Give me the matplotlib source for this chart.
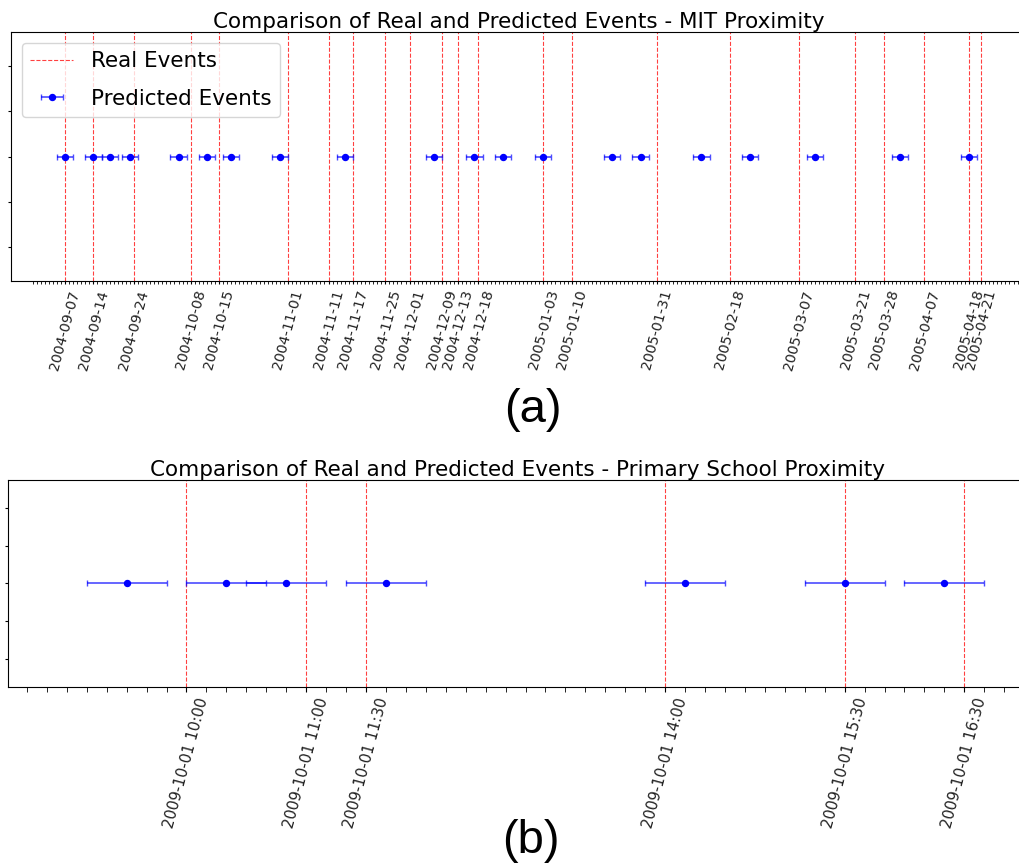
import numpy as np
import pandas as pd
import matplotlib
matplotlib.use('Agg')
import matplotlib.pyplot as plt
import matplotlib.dates as mdates
from matplotlib.ticker import FixedLocator, NullFormatter

#####################################################################################
# DATA:
#####################################################################################
# (a) MIT proximity
mit_real = ['2004-09-07', '2004-09-14', '2004-09-24', '2004-10-08', '2004-10-15',
            '2004-11-01', '2004-11-11', '2004-11-17', '2004-11-25', '2004-12-01',
            '2004-12-09', '2004-12-13', '2004-12-18', '2005-01-03', '2005-01-10',
            '2005-01-31', '2005-02-18', '2005-03-07', '2005-03-21', '2005-03-28',
            '2005-04-07', '2005-04-18', '2005-04-21']
mit_pred = ['2004-09-07', '2004-09-14', '2004-09-18', '2004-09-23', '2004-10-05',
            '2004-10-12', '2004-10-18', '2004-10-30', '2004-11-15', '2004-12-07',
            '2004-12-17', '2004-12-24', '2005-01-03', '2005-01-20', '2005-01-27',
            '2005-02-11', '2005-02-23', '2005-03-11', '2005-04-01', '2005-04-18']
mit_err_days = 2

# (b) Primary school proximity
school_real = ['2009-10-01 10:00', '2009-10-01 11:00', '2009-10-01 11:30',
               '2009-10-01 14:00', '2009-10-01 15:30', '2009-10-01 16:30']
school_pred = ['2009-10-01 09:30', '2009-10-01 10:20', '2009-10-01 10:50',
               '2009-10-01 11:40', '2009-10-01 14:10', '2009-10-01 15:30',
               '2009-10-01 16:20']
school_err_min = 20

#####################################################################################
# PROCEDURE:
#####################################################################################
def draw_events(ax, real, pred, err, fmt, title, xlim, minor, ticklen, labelsize):
    real = pd.to_datetime(real)
    pred = pd.to_datetime(pred)
    for i, d in enumerate(real):
        ax.axvline(d, color='red', linestyle='--', linewidth=0.8, alpha=0.75,
                   label='Real Events' if i == 0 else None)
    y = np.ones(len(pred))
    line, caps, bars = ax.errorbar(pred, y, xerr=err, fmt='o', color='blue',
                                   markersize=4.3, capsize=2.5, elinewidth=1.2,
                                   label='Predicted Events')
    for c in caps:
        c.set_alpha(0.7)
    for b in bars:
        b.set_alpha(0.7)
    ax.set_xlim(pd.to_datetime(xlim[0]), pd.to_datetime(xlim[1]))
    ax.set_ylim(0.9452, 1.0548)
    ax.set_yticks([0.96, 0.98, 1.0, 1.02, 1.04])
    ax.set_yticklabels([])
    ax.set_xticks(real)
    ax.xaxis.set_major_formatter(mdates.DateFormatter(fmt))
    ax.xaxis.set_minor_locator(FixedLocator(mdates.date2num(minor)))
    ax.xaxis.set_minor_formatter(NullFormatter())
    ax.tick_params(axis='x', labelsize=labelsize, rotation=75, length=ticklen,
                   labelcolor='#222222')
    ax.tick_params(axis='x', which='minor', length=ticklen)
    ax.tick_params(axis='y', length=2)
    ax.set_title(title, fontsize=15.5, pad=1)

#####################################################################################
# CODE:
#####################################################################################
fig = plt.figure(figsize=(10.19, 8.63), dpi=100)

ax1 = fig.add_axes([11/1019, 1-281/863, 1015/1019, 249/863])
draw_events(ax1, mit_real, mit_pred, pd.Timedelta(days=mit_err_days), '%Y-%m-%d',
            'Comparison of Real and Predicted Events - MIT Proximity',
            ('2004-08-24 16:00', '2005-05-02 02:00'),
            pd.date_range('2004-08-30', '2005-05-03', freq='D'), 2, 10.2)
ax1.legend(loc='upper left', fontsize=15.5, labelspacing=0.8)

ax2 = fig.add_axes([8/1019, 1-686.5/863, 1019/1019, 206.5/863])
draw_events(ax2, school_real, school_pred, pd.Timedelta(minutes=school_err_min),
            '%Y-%m-%d %H:%M',
            'Comparison of Real and Predicted Events - Primary School Proximity',
            ('2009-10-01 08:30:30', '2009-10-01 17:01:26'),
            pd.date_range('2009-10-01 08:30', '2009-10-01 17:10', freq='10min'), 3.5, 10.7)

fig.text(533/1019, 1-410/863, '(a)', fontsize=34, ha='center', va='center',
         family='Liberation Sans')
fig.text(531/1019, 1-841/863, '(b)', fontsize=34, ha='center', va='center',
         family='Liberation Sans')

plt.savefig('out.png', dpi=100)
